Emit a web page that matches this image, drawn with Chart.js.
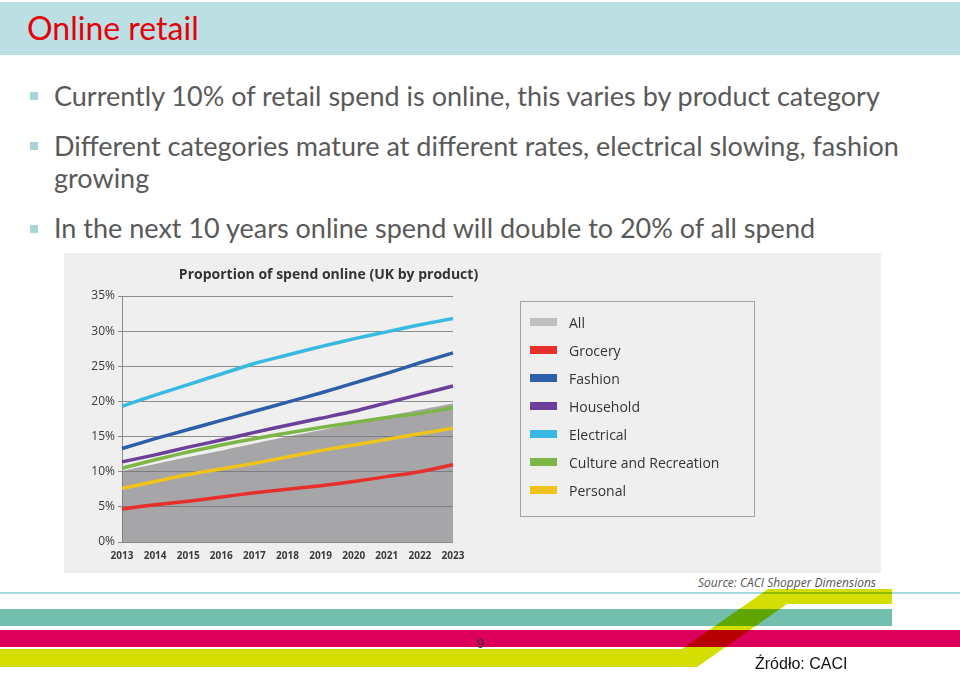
<!DOCTYPE html>
<html>
<head>
<meta charset="utf-8">
<script src="https://cdn.jsdelivr.net/npm/chart.js@4/dist/chart.umd.min.js"></script>
<style>
  html, body { margin: 0; padding: 0; background: #fff; }
  #page { position: relative; width: 960px; height: 673px; overflow: hidden; background: #fff; }
  .abs { position: absolute; white-space: nowrap; }
  #band { left: 0; top: 2px; width: 960px; height: 53px; background: #bcdfe3; }
  #slideTitle { left: 27px; top: 9px; font: 32px Lato, sans-serif; line-height: 1.2; color: #e3000b; }
  .bul { font: 27px Lato, sans-serif; line-height: 1.2; color: #595959; left: 54px; }
  .sq { width: 8px; height: 8px; background: #a9d5d9; left: 30px; }
  #chartBox { left: 64px; top: 253px; width: 817px; height: 320px; background: #efefef; }
  #chartTitle { left: 64px; top: 266px; width: 529px; text-align: center; font: bold 14px "Open Sans", sans-serif; line-height: 16px; color: #333; }
  #legend { left: 520px; top: 301px; width: 233px; height: 208px; border: 1px solid #a3a3a3; padding-top: 6px; box-sizing: content-box; }
  .lgRow { height: 28px; display: flex; align-items: center; font: 14px "Open Sans", sans-serif; color: #333; }
  .lgSw { width: 27px; height: 8px; margin-left: 9px; margin-right: 12px; }
  #source { right: 84px; top: 574px; font: italic 12px "Open Sans", sans-serif; color: #555; }
  #pageNo { left: 477px; top: 636px; font: 13px "Liberation Sans", Arial, sans-serif; color: #333; }
  #zrodlo { left: 755px; top: 655px; font: 16px "Liberation Sans", Arial, sans-serif; color: #111; }
</style>
</head>
<body>
<div id="page">
  <div id="band" class="abs"></div>
  <div id="slideTitle" class="abs">Online retail</div>

  <div class="abs sq" style="top:92px"></div>
  <div class="abs bul" style="top:80px">Currently 10% of retail spend is online, this varies by product category</div>
  <div class="abs sq" style="top:142px"></div>
  <div class="abs bul" style="top:130px">Different categories mature at different rates, electrical slowing, fashion</div>
  <div class="abs bul" style="top:162px">growing</div>
  <div class="abs sq" style="top:225px"></div>
  <div class="abs bul" style="top:212px">In the next 10 years online spend will double to 20% of all spend</div>

  <div id="chartBox" class="abs"><canvas id="spendChart" width="817" height="320"></canvas></div>
  <div id="chartTitle" class="abs">Proportion of spend online (UK by product)</div>
  <div id="legend" class="abs"></div>
  <div id="source" class="abs">Source: CACI Shopper Dimensions</div>

  <svg class="abs" style="left:0;top:0" width="960" height="673">
    <rect x="0" y="592" width="960" height="2" fill="#a9d8dc"/>
    <rect x="0" y="609" width="892" height="17" fill="#72bfae"/>
    <rect x="0" y="630" width="960" height="17" fill="#dc005a"/>
    <polygon points="0,649 682,649 768,589 892,589 892,604 787,604 697,667 0,667" fill="#d4de00" style="mix-blend-mode:multiply"/>
  </svg>
  <div id="pageNo" class="abs">9</div>
  <div id="zrodlo" class="abs">Źródło: CACI</div>
</div>

<script>
// --- data (share of spend online, %) ---
const years = ['2013', '2014', '2015', '2016', '2017', '2018', '2019', '2020', '2021', '2022', '2023'];
const allSpend   = [10.1, 11.1, 12.1, 13.0, 14.0, 15.0, 15.9, 16.9, 17.9, 18.8, 19.7];
const grocery    = [4.7, 5.3, 5.8, 6.4, 7.0, 7.5, 8.0, 8.6, 9.3, 10.0, 11.0];
const fashion    = [13.3, 14.7, 16.0, 17.3, 18.6, 19.9, 21.2, 22.6, 24.0, 25.5, 26.9];
const household  = [11.4, 12.4, 13.5, 14.5, 15.6, 16.6, 17.6, 18.6, 19.8, 21.0, 22.2];
const electrical = [19.3, 20.9, 22.4, 23.9, 25.4, 26.6, 27.8, 28.9, 29.9, 30.9, 31.8];
const culture    = [10.5, 11.7, 12.8, 13.8, 14.7, 15.5, 16.3, 17.0, 17.7, 18.3, 19.1];
const personal   = [7.6, 8.6, 9.6, 10.4, 11.2, 12.1, 13.0, 13.8, 14.6, 15.4, 16.2];
const yTicks = [0, 5, 10, 15, 20, 25, 30, 35];

function lineSet(label, data, color) {
    return { label: label, data: data, borderColor: color, borderWidth: 3.5,
             pointRadius: 0, tension: 0.25, fill: false, order: 0 };
}

const datasets = [
    { label: 'All', data: allSpend, borderColor: '#bfbfbf', borderWidth: 0,
      backgroundColor: 'rgba(117,117,121,0.6)', fill: 'origin', pointRadius: 0, tension: 0.2, order: 1 },
    lineSet('Grocery', grocery, '#e8302a'),
    lineSet('Fashion', fashion, '#2d5ea8'),
    lineSet('Household', household, '#6b3f9a'),
    lineSet('Electrical', electrical, '#37b9e2'),
    lineSet('Culture and Recreation', culture, '#7cb646'),
    lineSet('Personal', personal, '#f0c31a')
];

const chart = new Chart(document.getElementById('spendChart').getContext('2d'), {
    type: 'line',
    data: { labels: years, datasets: datasets },
    options: {
        responsive: false,
        animation: false,
        layout: { padding: { left: 8, right: 428, top: 43, bottom: 11 } },
        plugins: { legend: { display: false }, tooltip: { enabled: false }, title: { display: false } },
        scales: {
            x: {
                grid: { display: false, drawTicks: false },
                border: { display: false },
                ticks: { color: '#3a3a3a', padding: 8, maxRotation: 0, autoSkip: false,
                         font: { family: 'Open Sans', size: 10, weight: 'bold' } },
                afterFit(axis) { axis.height = 20; }
            },
            y: {
                min: 0, max: 35,
                afterBuildTicks(axis) { axis.ticks = yTicks.map(v => ({ value: v })); },
                ticks: { color: '#3a3a3a', padding: 3, callback: v => v + '%',
                         font: { family: 'Open Sans', size: 12 } },
                grid: { color: '#8c8c8c', lineWidth: 1, tickLength: 4 },
                border: { color: '#8c8c8c' },
                afterFit(axis) { axis.width = 50; }
            }
        }
    }
});

// legend built from the chart's own datasets
const legendEl = document.getElementById('legend');
chart.data.datasets.forEach(ds => {
    const row = document.createElement('div');
    row.className = 'lgRow';
    row.innerHTML = '<span class="lgSw" style="background:' + ds.borderColor + '"></span>' + ds.label;
    legendEl.appendChild(row);
});
</script>
</body>
</html>
